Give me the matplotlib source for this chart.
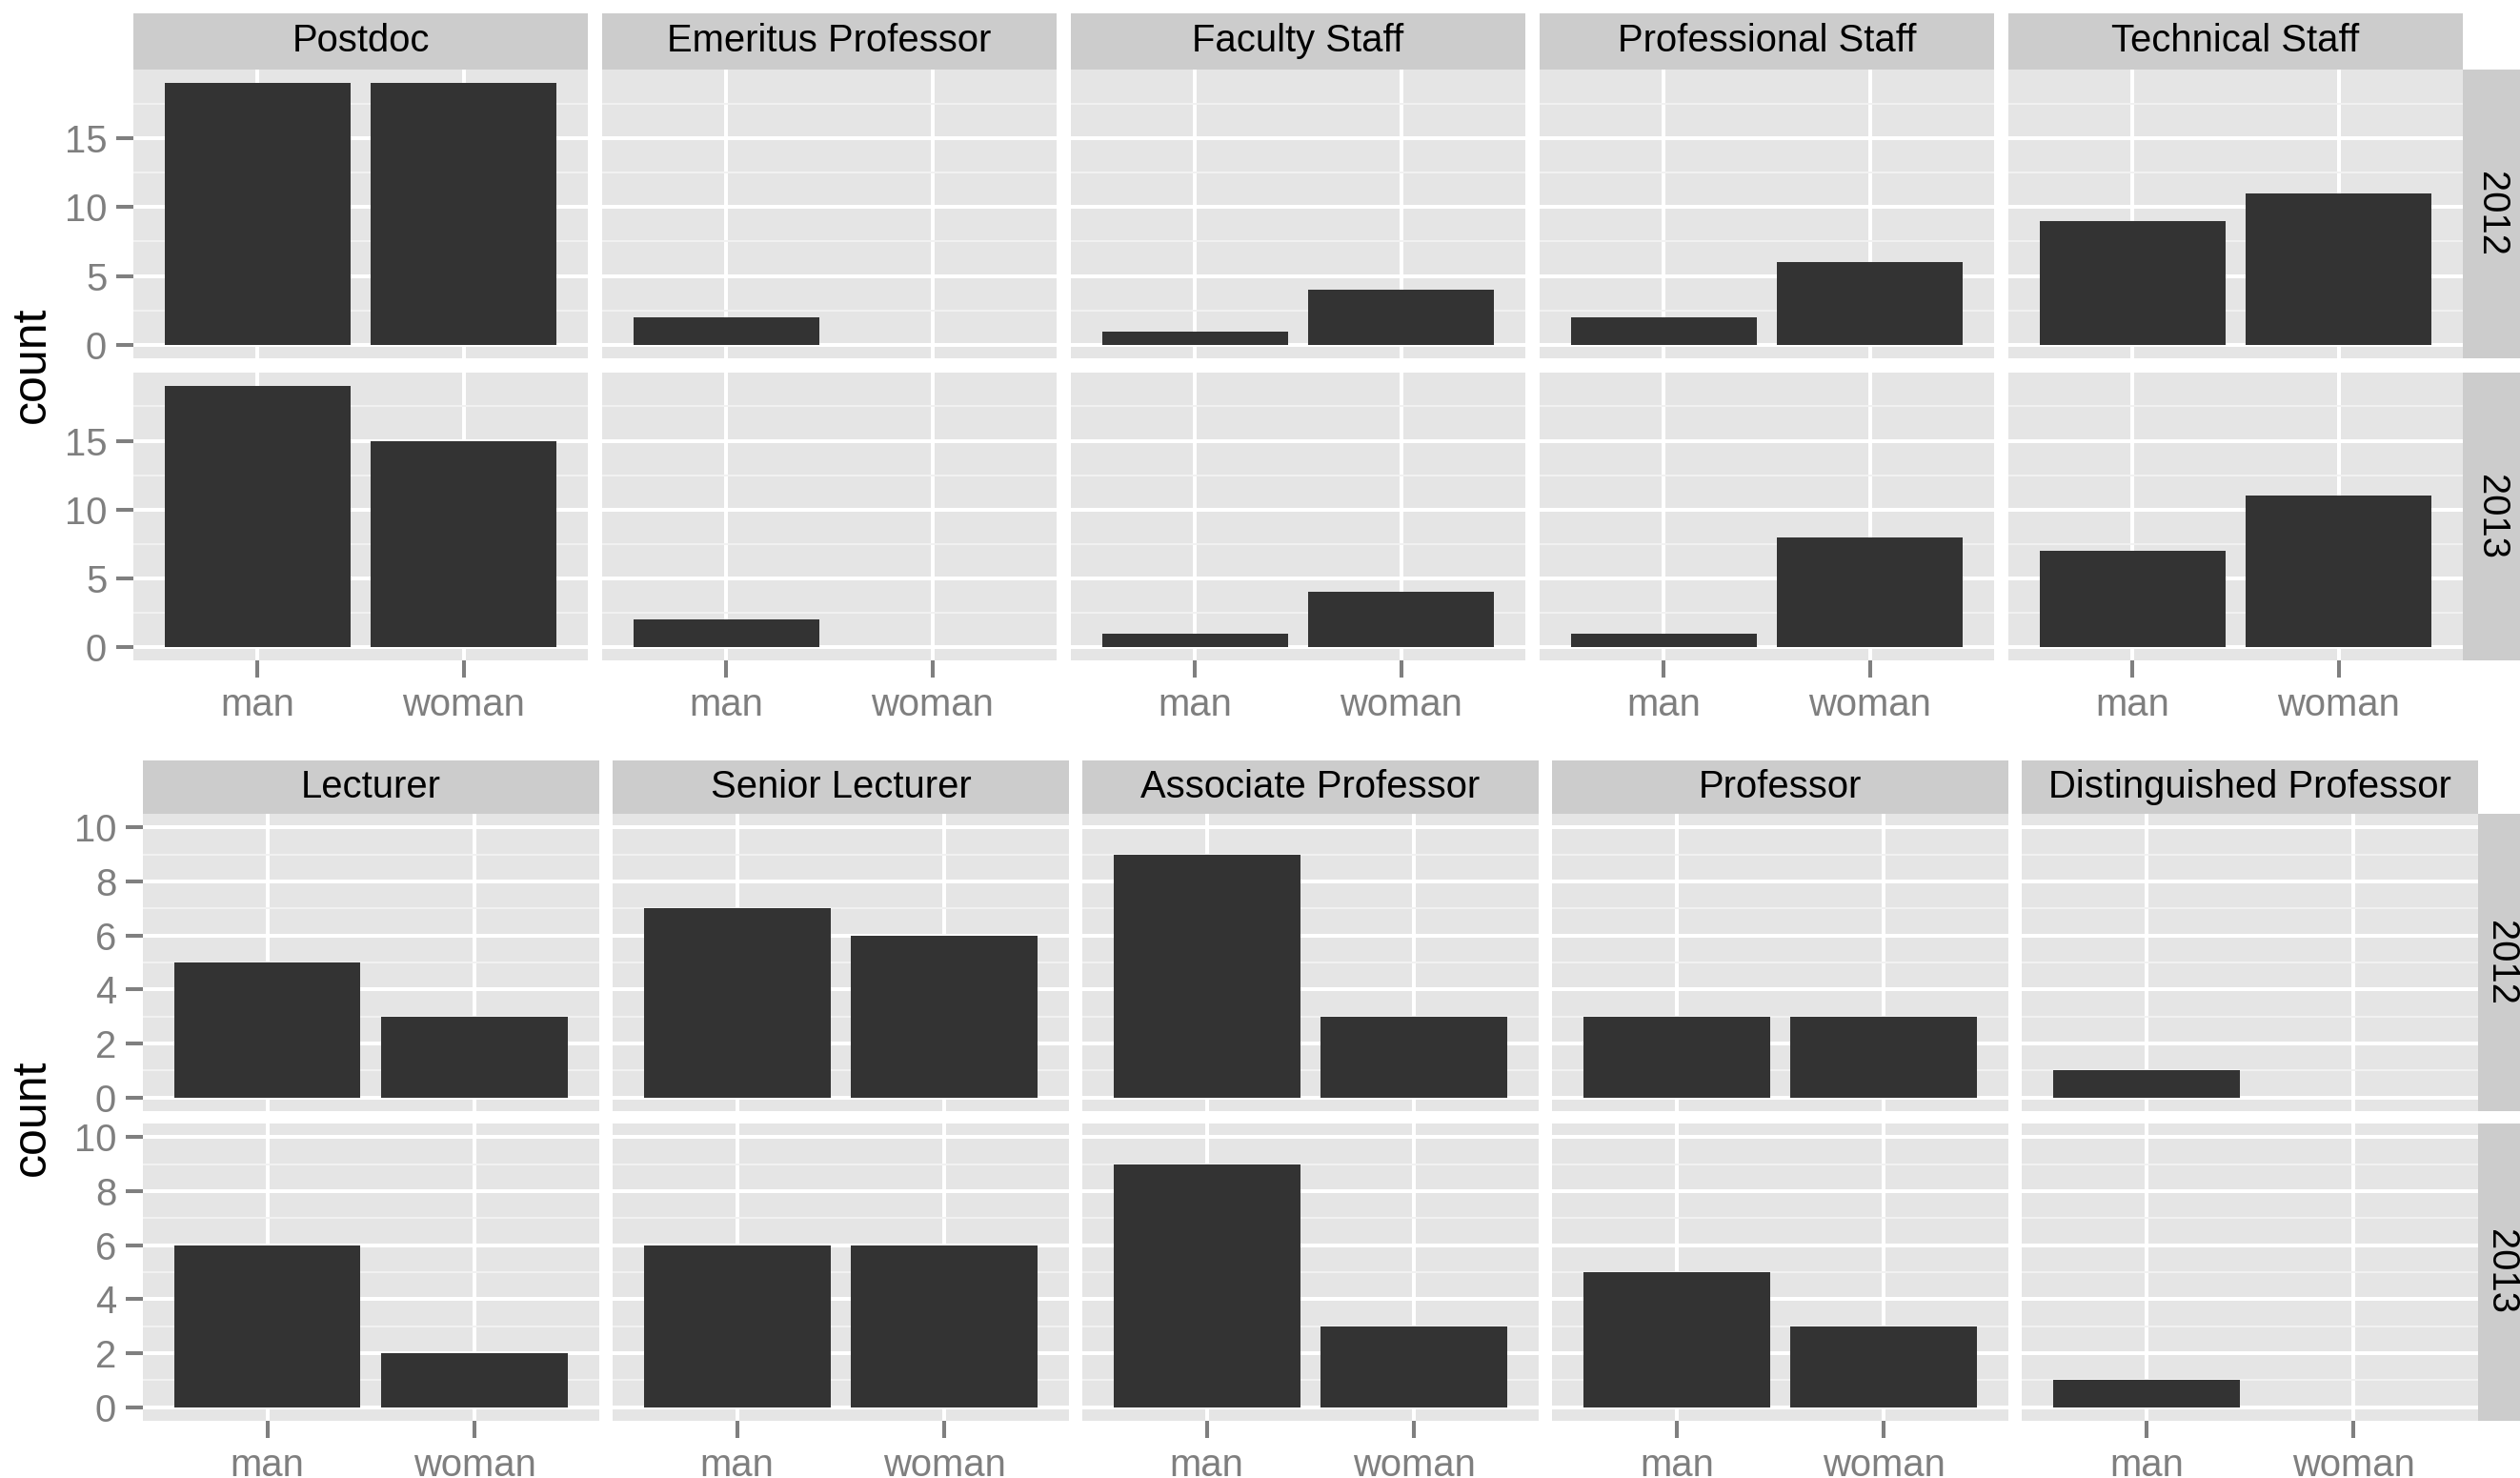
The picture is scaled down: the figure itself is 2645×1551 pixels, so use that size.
import matplotlib
matplotlib.use('Agg')
import matplotlib.pyplot as plt

plt.rcParams['font.family'] = ['Liberation Sans', 'DejaVu Sans']

GENDERS = ['man', 'woman']
YEARS = ['2012', '2013']

# upper block: staff and postdocs
top_roles = ['Postdoc', 'Emeritus Professor', 'Faculty Staff',
             'Professional Staff', 'Technical Staff']
top_2012 = [[19, 19], [2, 0], [1, 4], [2, 6], [9, 11]]
top_2013 = [[19, 15], [2, 0], [1, 4], [1, 8], [7, 11]]
top_ticks = [0, 5, 10, 15]
top_minor = [2.5, 7.5, 12.5, 17.5]

# lower block: academic ranks
bottom_roles = ['Lecturer', 'Senior Lecturer', 'Associate Professor',
                'Professor', 'Distinguished Professor']
bottom_2012 = [[5, 3], [7, 6], [9, 3], [3, 3], [1, 0]]
bottom_2013 = [[6, 2], [6, 6], [9, 3], [5, 3], [1, 0]]
bottom_ticks = [0, 2, 4, 6, 8, 10]
bottom_minor = [1, 3, 5, 7, 9]

W, H = 2645, 1551
fig = plt.figure(figsize=(W / 100, H / 100), dpi=100)

PANEL = '#E5E5E5'
STRIP = '#CCCCCC'
BAR = '#333333'
GREY = '#7F7F7F'


def box(x0, y0, x1, y1):
    """pixel box with top-left origin -> figure fraction rect"""
    return [x0 / W, 1 - y1 / H, (x1 - x0) / W, (y1 - y0) / H]


def strip(rect, label, rotation=0):
    s = fig.add_axes(rect)
    s.set_facecolor(STRIP)
    s.set_xticks([])
    s.set_yticks([])
    for sp in s.spines.values():
        sp.set_visible(False)
    s.text(0.5, 0.5, label, transform=s.transAxes, ha='center', va='center',
           rotation=rotation, fontsize=28.8, color='black')


def facet_block(roles, rows, ticks, minor, ylim, left, width, gap,
                strip_top, row_edges, strip_w):
    for c, role in enumerate(roles):
        x0 = left + c * (width + gap)
        x1 = x0 + width
        strip(box(x0, strip_top, x1, row_edges[0][0]), role)
        for r, year in enumerate(YEARS):
            y0, y1 = row_edges[r]
            ax = fig.add_axes(box(x0, y0, x1, y1))
            ax.set_facecolor(PANEL)
            for sp in ax.spines.values():
                sp.set_visible(False)
            ax.bar([1, 2], rows[r][c], width=0.9, color=BAR, zorder=3)
            ax.set_xlim(0.4, 2.6)
            ax.set_ylim(*ylim)
            ax.set_xticks([1, 2])
            ax.set_xticklabels(GENDERS)
            ax.set_yticks(ticks)
            ax.set_yticks(minor, minor=True)
            ax.set_axisbelow(True)
            ax.grid(which='major', color='white', linewidth=2.9)
            ax.grid(which='minor', axis='y', color='#F2F2F2', linewidth=1.4)
            ax.tick_params(which='minor', length=0)
            ax.tick_params(which='major', length=13, width=2.9, color=GREY,
                           labelcolor=GREY, labelsize=28.8, pad=7)
            if c > 0:
                ax.tick_params(left=False, labelleft=False)
            if r == 0:
                ax.tick_params(bottom=False, labelbottom=False)
            if c == len(roles) - 1:
                strip(box(x1, y0, x1 + strip_w, y1), year, rotation=270)
    mid = (row_edges[0][0] + row_edges[1][1]) / 2
    fig.text(34 / W, 1 - mid / H, 'count', rotation=90, ha='center',
             va='center', fontsize=36, color='black')


facet_block(top_roles, [top_2012, top_2013], top_ticks, top_minor,
            (-0.95, 19.95), 140, 477, 15, 14, [(73, 376), (391, 693)], 60)
facet_block(bottom_roles, [bottom_2012, bottom_2013], bottom_ticks,
            bottom_minor, (-0.5, 10.5), 150, 478.6, 14.5, 798,
            [(854, 1166), (1179, 1491)], 48)

fig.savefig('out.png', dpi=100, facecolor='white')
